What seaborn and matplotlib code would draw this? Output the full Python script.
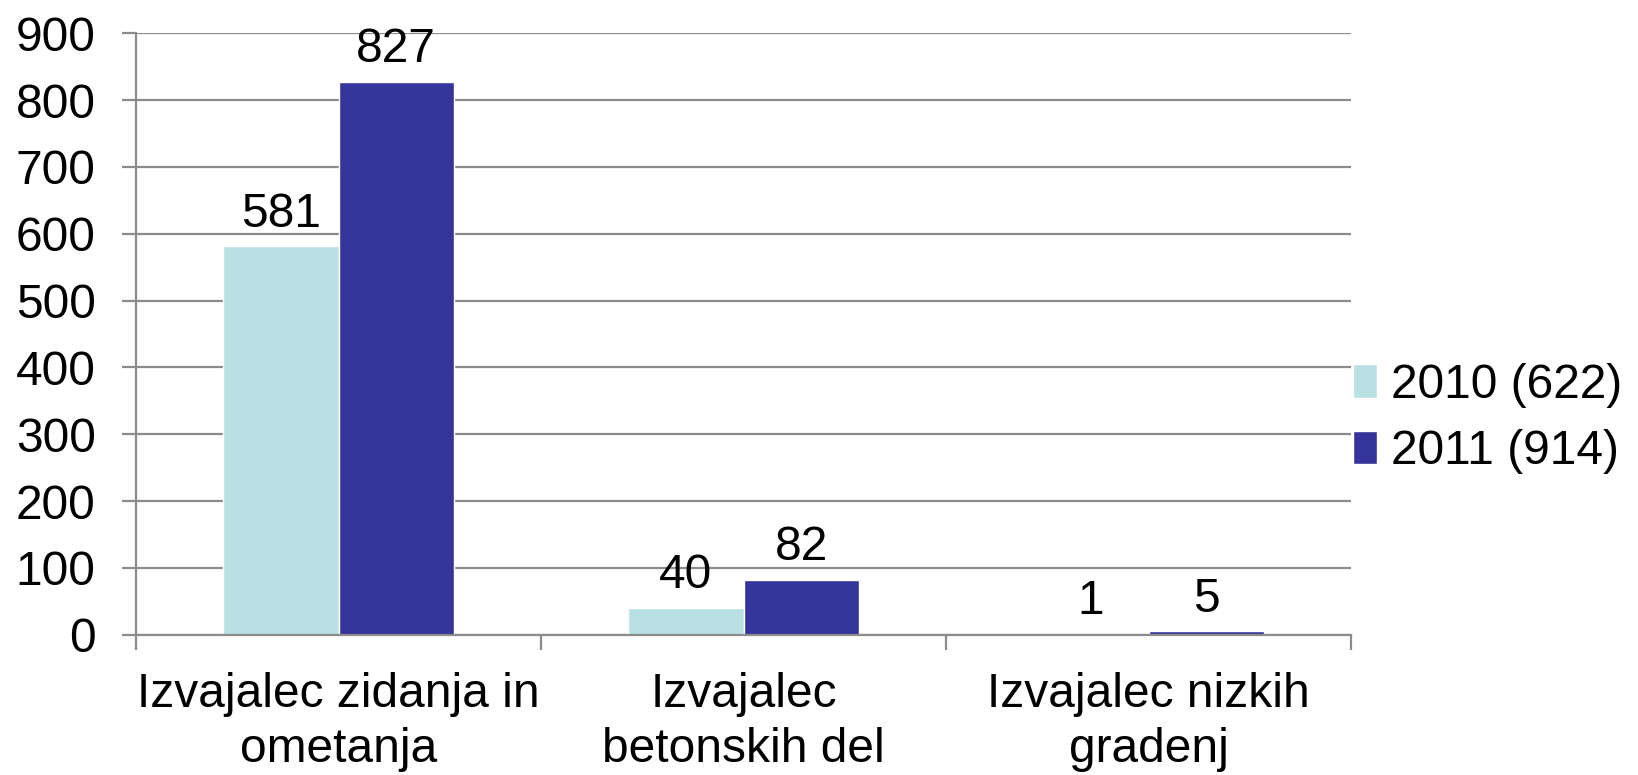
import pandas as pd
import seaborn as sns
import matplotlib.pyplot as plt
from matplotlib.patches import Patch

# podatki
kategorije = ['Izvajalec zidanja in\nometanja', 'Izvajalec\nbetonskih del', 'Izvajalec nizkih\ngradenj']
leto_2010 = [581, 40, 1]
leto_2011 = [827, 82, 5]
serije = ['2010 (622)', '2011 (914)']
barve = ['#B9E0E3', '#35349A']

df = pd.DataFrame({
    'kategorija': kategorije * 2,
    'serija': [serije[0]] * 3 + [serije[1]] * 3,
    'vrednost': leto_2010 + leto_2011,
})

sns.set_style('white')
plt.rcParams['font.family'] = ['Liberation Sans', 'DejaVu Sans']
plt.rcParams['text.color'] = 'black'
plt.rcParams['xtick.color'] = 'black'
plt.rcParams['ytick.color'] = 'black'
FS = 34.5

fig = plt.figure(figsize=(16.38, 7.75), dpi=100)
ax = fig.add_axes([0.083, 0.181, 0.742, 0.776])

sns.barplot(data=df, x='kategorija', y='vrednost', hue='serija', palette=barve,
            width=0.57, gap=0, saturation=1, ax=ax, legend=False, errorbar=None)

for cont in ax.containers:
    ax.bar_label(cont, fmt='%d', padding=7, fontsize=FS, color='black')

ax.set_ylim(0, 900)
ax.set_xlim(-0.5, 2.5)
ax.set_yticks(range(0, 901, 100))
ax.set_xlabel('')
ax.set_ylabel('')
ax.yaxis.grid(True, color='#8C8C8C', linewidth=1.6)
ax.set_axisbelow(True)
for s in ['top', 'right']:
    ax.spines[s].set_visible(False)
for s in ['left', 'bottom']:
    ax.spines[s].set_color('#8C8C8C')
    ax.spines[s].set_linewidth(1.6)

ax.tick_params(axis='y', which='major', length=10, width=1.6, color='#8C8C8C',
               labelcolor='black', direction='out', pad=19, labelsize=FS, left=True)
ax.tick_params(axis='x', which='major', length=0, pad=27, labelsize=FS, labelcolor='black')
for lab in ax.get_xticklabels():
    lab.set_linespacing(1.28)
ax.set_xticks([-0.5, 0.5, 1.5, 2.5], minor=True)
ax.tick_params(axis='x', which='minor', length=11, width=1.6, color='#8C8C8C',
               direction='out', bottom=True)

ročke = [Patch(facecolor=barve[i], label=serije[i]) for i in range(2)]
fig.legend(handles=ročke, loc='center left', bbox_to_anchor=(0.826, 0.46),
           frameon=False, fontsize=FS, handlelength=0.5, handleheight=0.7,
           handletextpad=0.3, labelspacing=0.45, borderaxespad=0, borderpad=0)

plt.savefig('out.png', dpi=100)
